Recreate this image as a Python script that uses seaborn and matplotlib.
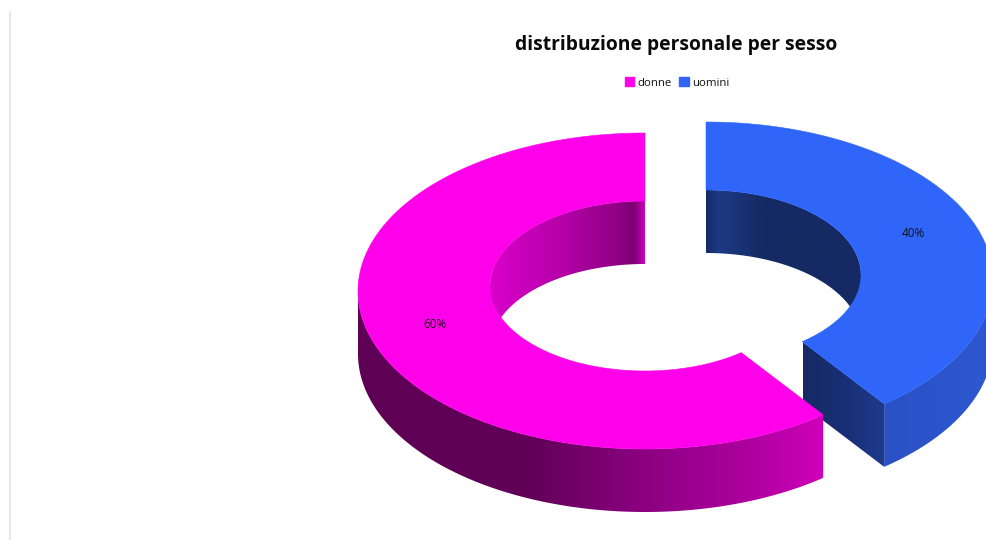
import numpy as np
import matplotlib
matplotlib.use("Agg")
import matplotlib.pyplot as plt
from matplotlib.colors import LinearSegmentedColormap
from matplotlib.patches import Patch, Polygon
import seaborn as sns

# Chart data
title = "distribuzione personale per sesso"
categories = ["donne", "uomini"]
shares = [60, 40]
top_colors = ["#FF00EA", "#3065FA"]

# Wall shading: (x pixel, colour) stops
pink_outer = [(358, "#5E0054"), (530, "#610058"), (640, "#8A0080"), (740, "#AA009C"), (824, "#CE00BA")]
pink_inner = [(490, "#D800CA"), (560, "#B600A8"), (622, "#8C0082"), (634, "#7A0070"), (645, "#CC00BC")]
blue_outer = [(878, "#2A50C4"), (990, "#2E58D0")]
blue_inner = [(705, "#152A63"), (718, "#1C3A85"), (765, "#152A63"), (862, "#152A63")]
blue_cut = [(803, "#152A63"), (850, "#183078"), (889, "#1E3C8E")]

# Ring geometry in figure pixels
OUTER_RX, OUTER_RY = 287, 158
INNER_RX, INNER_RY = 155, 85
DEPTH = 63
INNER_CY_SHIFT = -5
VIEW_WARP = 1.09  # tilted view squeezes the lower half of the ring

sns.set_theme(style="white")
plt.rcParams["font.family"] = ["Open Sans", "DejaVu Sans"]

fig = plt.figure(figsize=(9.86, 5.4), dpi=100, facecolor="white")
ax = fig.add_axes([0, 0, 1, 1])

ax.plot([10, 10], [12, 540], color="#E2E2E2", lw=1.2, zorder=0)


def arc(cx, cy, rx, ry, t0, t1, n=240):
    """Ellipse points, t in degrees clockwise from twelve o'clock."""
    t = np.radians(np.linspace(t0, t1, n))
    warped = np.arctan2(VIEW_WARP * np.sin(t), np.cos(t))
    return np.column_stack([cx + rx * np.sin(warped), cy - ry * np.cos(warped)])


def gradient_fill(outline, stops, z):
    """Fill a polygon with a left-to-right colour ramp given by pixel stops."""
    x0, x1 = stops[0][0], stops[-1][0]
    ramp = LinearSegmentedColormap.from_list(
        "ramp", [((x - x0) / (x1 - x0), c) for x, c in stops])
    img = ax.imshow(np.linspace(0, 1, 512)[None, :], cmap=ramp, aspect="auto",
                    extent=(x0, x1, outline[:, 1].max() + 1, outline[:, 1].min() - 1),
                    interpolation="bilinear", zorder=z)
    clip = Polygon(outline, closed=True, transform=ax.transData)
    img.set_clip_path(clip)


def wall(pts, stops, z):
    """Extruded strip hanging below a curve."""
    gradient_fill(np.vstack([pts, (pts + [0, DEPTH])[::-1]]), stops, z)


def ring_slice(cx, cy, t0, t1, color, outer_stops, inner_stops, vis_outer, vis_inner, base_z):
    icy = cy + INNER_CY_SHIFT
    wall(arc(cx, icy, INNER_RX, INNER_RY, *vis_inner), inner_stops, base_z)
    wall(arc(cx, cy, OUTER_RX, OUTER_RY, *vis_outer), outer_stops, base_z + 1)
    outer = arc(cx, cy, OUTER_RX, OUTER_RY, t0, t1)
    inner = arc(cx, icy, INNER_RX, INNER_RY, t1, t0)
    ax.add_patch(Polygon(np.vstack([outer, inner]), closed=True, facecolor=color,
                         edgecolor=color, lw=0.4, zorder=base_z + 3))


# Slice angles follow the shares, clockwise; uomini starts at twelve o'clock
sweep = [s / sum(shares) * 360 for s in shares]
cut = sweep[1]

# uomini: pulled up and to the right
blue_center = (706, 280)
outer_b = arc(*blue_center, OUTER_RX, OUTER_RY, cut, cut, n=1)
inner_b = arc(blue_center[0], blue_center[1] + INNER_CY_SHIFT, INNER_RX, INNER_RY, cut, cut, n=1)
ring_slice(*blue_center, 0, cut, top_colors[1], blue_outer, blue_inner,
           (90, cut), (0, 90), 2)
wall(np.vstack([inner_b, outer_b]), blue_cut, 4)

# donne: the rest of the ring, in front
pink_center = (645, 291)
ring_slice(*pink_center, cut, 360, top_colors[0], pink_outer, pink_inner,
           (cut, 270), (270, 360), 10)

# Percentage labels sit at mid-ring of each slice
centers = [pink_center, blue_center]
mids = [cut + sweep[0] / 2, sweep[1] / 2]
nudges = [(2, 2), (-4, -9)]
for share, c, m, (dx, dy) in zip(shares, centers, mids, nudges):
    p = arc(c[0], c[1] - 3, (OUTER_RX + INNER_RX) / 2, 121, m, m, n=1)[0]
    ax.text(p[0] + dx, p[1] + dy, f"{share}%", ha="center", va="center",
            fontsize=8.5, color="#111111", zorder=20)

ax.text(676, 45, title, ha="center", va="center", fontsize=13.9,
        fontweight="bold", color="#0A0A0A", zorder=20)

handles = [Patch(facecolor=c, edgecolor=c) for c in top_colors]
ax.legend(handles, categories, ncol=2, loc="center", bbox_to_anchor=(677 / 986, 1 - 83 / 540),
          frameon=False, fontsize=8.2, handlelength=0.8, handleheight=0.8,
          handletextpad=0.3, columnspacing=0.7, labelcolor="#111111")

ax.set_xlim(0, 986)
ax.set_ylim(540, 0)
ax.axis("off")

fig.savefig("out.png", dpi=100, facecolor="white")
